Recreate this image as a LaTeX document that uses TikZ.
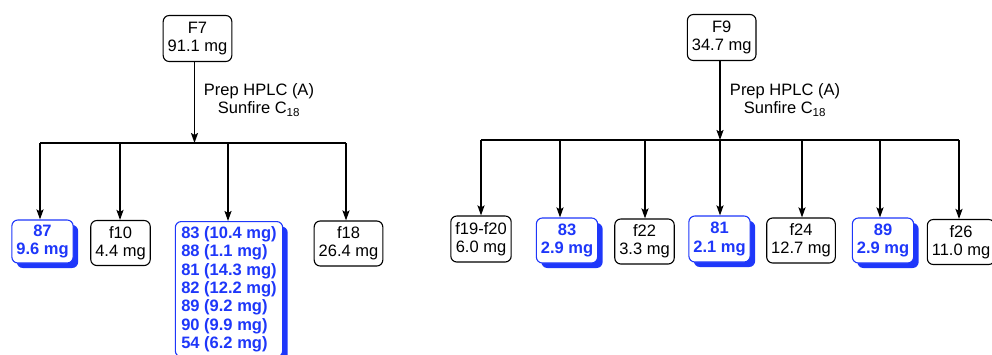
\documentclass[tikz,border=0pt]{standalone}
\usepackage{fontspec}
\setmainfont{Liberation Sans}
\usetikzlibrary{arrows.meta,shadows}
\definecolor{bl}{RGB}{30,55,250}
\tikzset{
  box/.style={draw,rounded corners=6pt,line width=1.1pt,fill=white,align=center,
    inner xsep=4.5pt,inner ysep=2pt,minimum height=45pt,
    font=\fontsize{16.5}{18.3}\selectfont},
  bbox/.style={box,draw=bl,text=bl,font=\fontsize{16.5}{18.3}\selectfont\bfseries,
    drop shadow={shadow xshift=5pt,shadow yshift=-5pt,fill=bl,opacity=1}},
  arr/.style={line width=1.8pt,-{Stealth[length=10pt,width=7pt,inset=2pt]}},
  bar/.style={line width=2pt},
  lbl/.style={align=center,font=\fontsize{16.5}{18.3}\selectfont}
}
\begin{document}
\begin{tikzpicture}[x=1pt,y=-1pt]
\useasboundingbox (0,0) rectangle (992,354);
% ---------- left tree ----------
\node[box,minimum height=46pt] (F7) at (197.5,38.5) {F7\\91.1 mg};
\node[lbl] (L7) at (259,100) {Prep HPLC (A)\\Sunfire C\textsubscript{18}};
\coordinate (j7) at (194.5,143);
\coordinate (a1) at (40,143);
\coordinate (a2) at (120,143);
\coordinate (a3) at (228,143);
\coordinate (a4) at (346,143);
\draw[arr] (F7.south -| j7) -- (j7);
\draw[bar] (a1) -- (a4);
\node[bbox,minimum height=43pt] (n87) at (42.5,241.5) {87\\9.6 mg};
\node[box] (f10) at (120.5,243) {f10\\4.4 mg};
\node[bbox,anchor=north,align=left,inner xsep=6pt,inner ysep=5pt] (big) at (229,221)
  {83 (10.4 mg)\\88 (1.1 mg)\\81 (14.3 mg)\\82 (12.2 mg)\\89 (9.2 mg)\\90 (9.9 mg)\\54 (6.2 mg)};
\node[box] (f18) at (348.5,243.5) {f18\\26.4 mg};
\draw[arr] (a1) -- (a1 |- n87.north);
\draw[arr] (a2) -- (a2 |- f10.north);
\draw[arr] (a3) -- (a3 |- big.north);
\draw[arr] (a4) -- (a4 |- f18.north);
% ---------- right tree ----------
\node[box,minimum height=46pt] (F9) at (721.7,37.5) {F9\\34.7 mg};
\node[lbl] (L9) at (785,100) {Prep HPLC (A)\\Sunfire C\textsubscript{18}};
\coordinate (j9) at (720,140);
\coordinate (b1) at (481,140);
\coordinate (b2) at (560,140);
\coordinate (b3) at (645,140);
\coordinate (b4) at (720,140);
\coordinate (b5) at (802,140);
\coordinate (b6) at (880,140);
\coordinate (b7) at (959,140);
\draw[arr] (F9.south -| j9) -- (j9);
\draw[bar] (b1) -- (b7);
\node[box,minimum height=46pt] (f19) at (481,239) {f19-f20\\6.0 mg};
\node[bbox] (n83) at (567,240.5) {83\\2.9 mg};
\node[box] (f22) at (644.5,241.5) {f22\\3.3 mg};
\node[bbox,minimum height=46pt] (n81) at (719.5,239) {81\\2.1 mg};
\node[box] (f24) at (801,240.5) {f24\\12.7 mg};
\node[bbox] (n89) at (883,240.5) {89\\2.9 mg};
\node[box] (f26) at (961,242) {f26\\11.0 mg};
\draw[arr] (b1) -- (b1 |- f19.north);
\draw[arr] (b2) -- (b2 |- n83.north);
\draw[arr] (b3) -- (b3 |- f22.north);
\draw[arr] (b4) -- (b4 |- n81.north);
\draw[arr] (b5) -- (b5 |- f24.north);
\draw[arr] (b6) -- (b6 |- n89.north);
\draw[arr] (b7) -- (b7 |- f26.north);
\end{tikzpicture}
\end{document}
